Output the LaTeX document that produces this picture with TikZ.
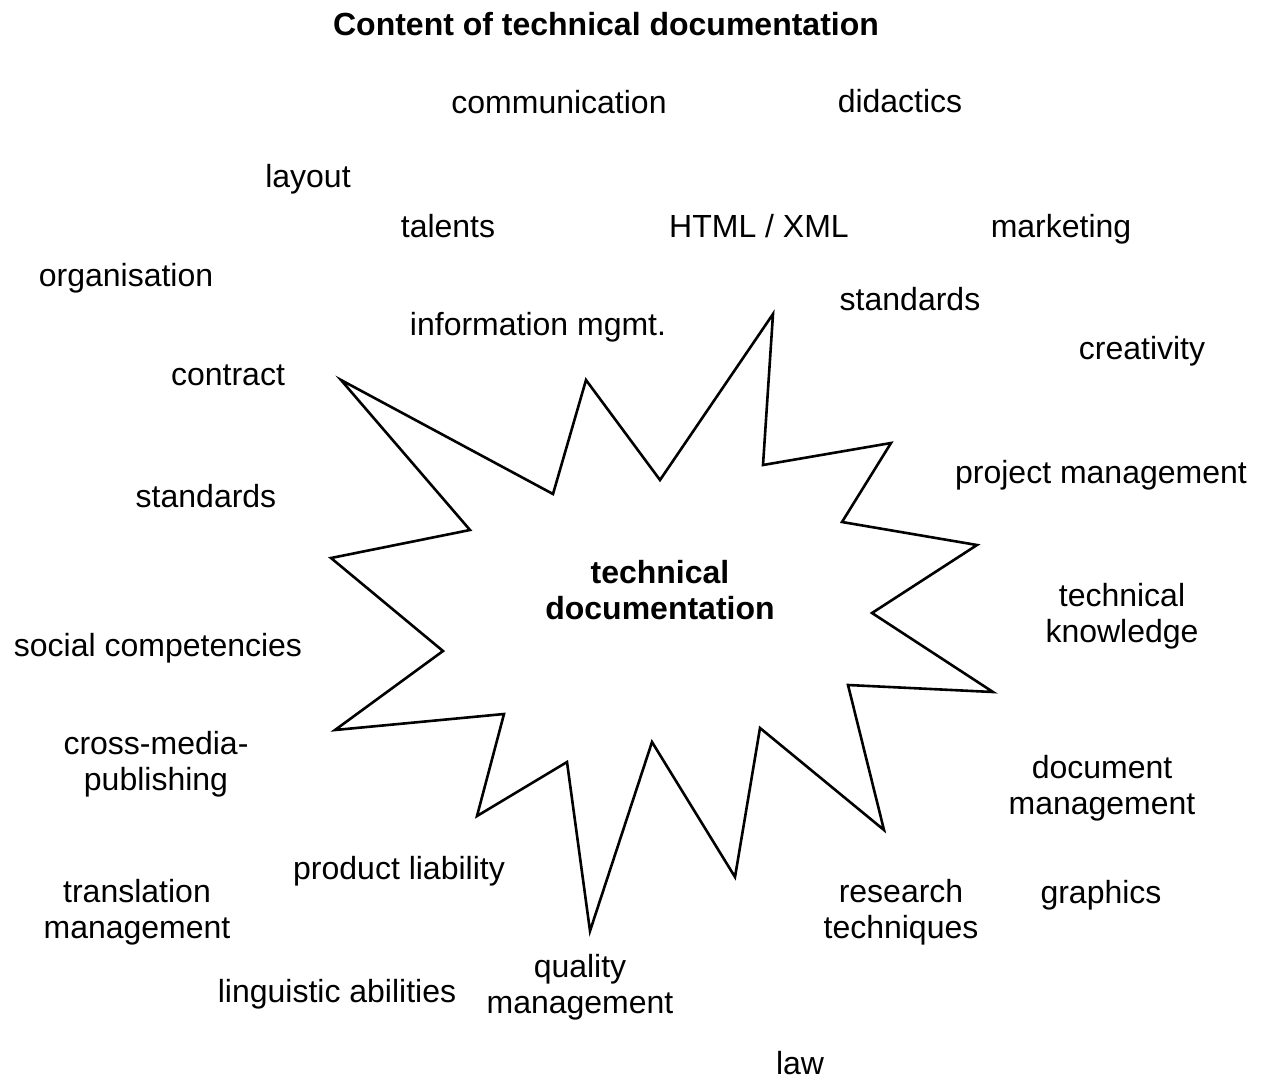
\documentclass[tikz,border=0pt]{standalone}
\usepackage{fontspec}
\setmainfont{Liberation Sans}
\begin{document}
\begin{tikzpicture}[x=1pt,y=-1pt,
  lbl/.style={inner sep=0pt,align=center,font=\fontsize{32}{36}\selectfont},
  blbl/.style={lbl,font=\fontsize{32}{36}\selectfont\bfseries},
  starline/.style={line width=2.6pt,line join=miter}]
\useasboundingbox (0,0) rectangle (1265,1079);
\fill[white] (0,0) rectangle (1265,1079);
% star
\draw[starline] (773,314) -- (763,465) -- (891,443) -- (842,522) -- (977,545)
  -- (872,613) -- (993,692) -- (848,685) -- (884,830) -- (760,728) -- (735,877)
  -- (652,742) -- (590,931) -- (567,762) -- (477,816) -- (504,714) -- (335,730)
  -- (443,651) -- (331,558) -- (470,530) -- (341,380) -- (553,494) -- (586,380)
  -- (660,480) -- cycle;
\node[blbl] (title) at (606,24) {Content of technical documentation};
\node[blbl] (center) at (660,590) {technical\\documentation};
\node[lbl] (comm) at (559,102) {communication};
\node[lbl] (did) at (900,101) {didactics};
\node[lbl] (lay) at (308,179) {layout};
\node[lbl] (tal) at (448,226) {talents};
\node[lbl] (html) at (759,226) {HTML / XML};
\node[lbl] (mkt) at (1061,229) {marketing};
\node[lbl] (org) at (126,278) {organisation};
\node[lbl] (std1) at (910,299) {standards};
\node[lbl] (inf) at (538,327) {information mgmt.};
\node[lbl] (cre) at (1142,351) {creativity};
\node[lbl] (con) at (228,375) {contract};
\node[lbl] (pm) at (1101,475) {project management};
\node[lbl] (std2) at (206,496) {standards};
\node[lbl] (tk) at (1122,616) {technical\\knowledge};
\node[lbl] (soc) at (158,648) {social competencies};
\node[lbl] (cmp) at (156,764) {cross-media-\\publishing};
\node[lbl] (dm) at (1102,788) {document\\management};
\node[lbl] (pl) at (399,871) {product liability};
\node[lbl] (tm) at (137,912) {translation\\management};
\node[lbl] (rt) at (901,912) {research\\techniques};
\node[lbl] (gra) at (1101,895) {graphics};
\node[lbl] (ling) at (337,994) {linguistic abilities};
\node[lbl] (qm) at (580,987) {quality\\management};
\node[lbl] (law) at (800,1063) {law};
\end{tikzpicture}
\end{document}
